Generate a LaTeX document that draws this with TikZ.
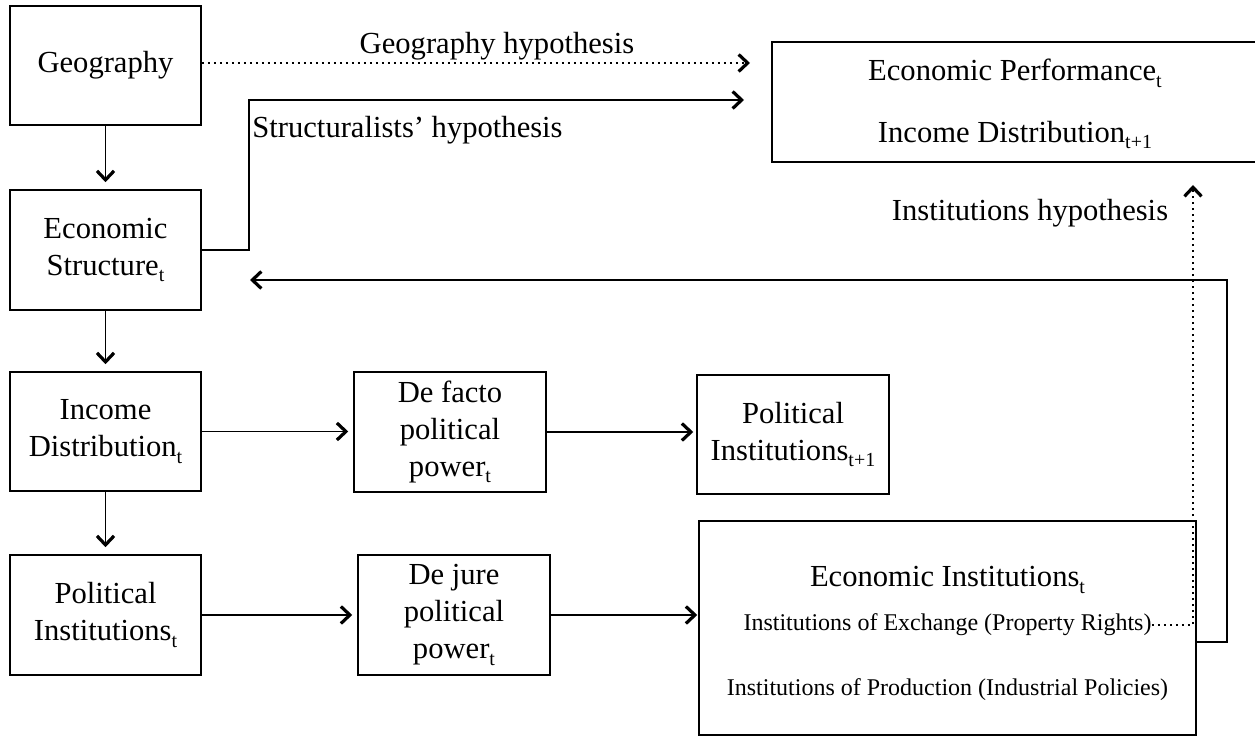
\documentclass[tikz,border=0pt]{standalone}
\usepackage{fontspec}
\setmainfont{Liberation Serif}
\usetikzlibrary{arrows.meta,calc}
\newcommand\sbx[1]{\raisebox{-3.4pt}{\fontsize{10}{10}\selectfont #1}}
\begin{document}
\begin{tikzpicture}[x=0.5pt,y=-0.5pt,
  box/.style={draw, line width=0.75pt, align=center, inner sep=0pt, font=\fontsize{15.3}{18.4}\selectfont},
  lbl/.style={inner sep=0pt, font=\fontsize{15.3}{18.4}\selectfont},
  small/.style={inner sep=0pt, font=\fontsize{12}{14}\selectfont},
  conn/.style={line width=0.75pt, -{Straight Barb[length=4.5pt,width=8.5pt,line width=1.6pt]}},
  dconn/.style={conn, dash pattern=on 0.9pt off 2.1pt}]
\useasboundingbox (0,0) rectangle (1255,737);
% boxes
\node[box, minimum width=95.5pt, minimum height=59.5pt] (geo) at (105.5,65.5) {Geography};
\node[box, minimum width=95.5pt, minimum height=60pt] (es) at (105.5,250) {Economic\\Structure\sbx{t}};
\node[box, minimum width=95.5pt, minimum height=59.5pt] (id) at (105.5,431.5) {Income\\Distribution\sbx{t}};
\node[box, minimum width=95.5pt, minimum height=60pt] (pi) at (105.5,615) {Political\\Institutions\sbx{t}};
\node[box, minimum width=96pt, minimum height=60pt] (df) at (450,432) {De facto\\political\\power\sbx{t}};
\node[box, minimum width=96pt, minimum height=60pt] (dj) at (454,615) {De jure\\political\\power\sbx{t}};
\node[box, minimum width=96pt, minimum height=59.5pt] (pin) at (793,434.5) {Political\\Institutions\sbx{t+1}};
\node[box, minimum width=248.5pt, minimum height=107pt] (ei) at (947.5,628) {};
\node[box, minimum width=243pt, minimum height=60pt] (ep) at (1015,102) {};
% texts
\node[lbl] (ept) at (1015,73) {Economic Performance\sbx{t}};
\node[lbl] (edt) at (1015,135) {Income Distribution\sbx{t+1}};
\node[lbl] (eit) at (947.5,580) {Economic Institutions\sbx{t}};
\node[small] (iex) at (947.5,625) {Institutions of Exchange (Property Rights)};
\node[small] (ipr) at (947.5,690) {Institutions of Production (Industrial Policies)};
\node[lbl] (gh) at (497,46) {Geography hypothesis};
\node[lbl, anchor=west] (sh) at (252,130) {Structuralists' hypothesis};
\node[lbl] (ih) at (1030,213) {Institutions hypothesis};
% connectors
\coordinate (gtip) at (750,63);
\draw[dconn] (geo.east |- gtip) -- (gtip);
\coordinate (sk) at (249,100);
\coordinate (stip) at (744,100);
\draw[conn] (es.east) -| (sk) -- (stip);
\draw[conn, shorten >=3.5pt] (geo) -- (es);
\draw[conn, shorten >=3.5pt] (es) -- (id);
\draw[conn, shorten >=3.5pt] (id) -- (pi);
\draw[conn, shorten >=2.5pt] (id.east) -- (df.west |- id.east);
\draw[conn, shorten >=1.5pt] (df.east) -- (df.east -| pin.west);
\draw[conn, shorten >=2.5pt] (pi.east) -- (dj.west);
\draw[conn, shorten >=0.5pt] (dj.east) -- (dj.east -| ei.west);
\coordinate (lp) at (1227,642);
\coordinate (ltip) at (250,280);
\draw[conn] (ei.east |- lp) -- (lp) |- (ltip);
\coordinate (itip) at (1193,185);
\draw[dconn] (iex.east) -| (itip);
\end{tikzpicture}
\end{document}
